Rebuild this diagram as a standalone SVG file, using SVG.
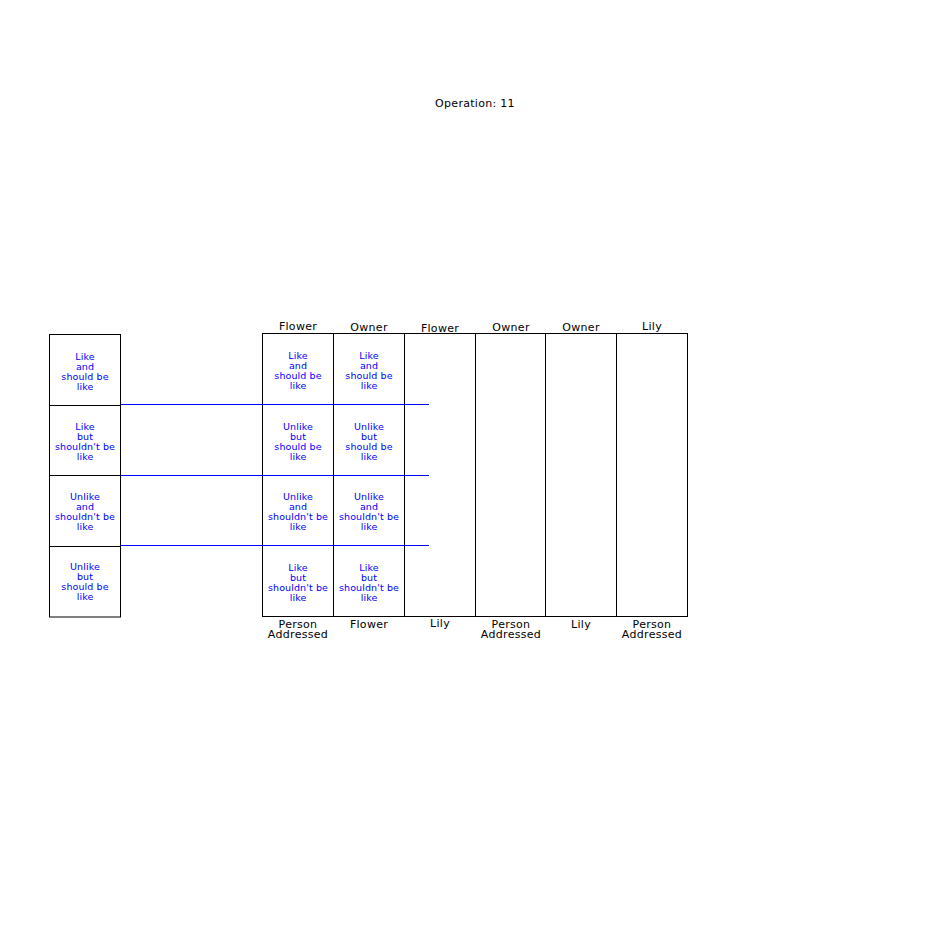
<svg xmlns="http://www.w3.org/2000/svg" width="950" height="950" viewBox="0 0 950 950">
<style>
.box{fill:none;stroke:#000;stroke-width:1}
.lbl{font-family:"DejaVu Sans",sans-serif;font-size:11px;letter-spacing:0.3px;fill:#000;text-anchor:middle}
.cell{font-family:"DejaVu Sans",sans-serif;font-size:9.5px;letter-spacing:0.1px;fill:#0000ff;text-anchor:middle}
.conn{stroke:#0000ff;stroke-width:1;fill:none}
</style>
<rect x="0" y="0" width="950" height="950" fill="#fff"/>
<text id="title" class="lbl" x="475" y="107">Operation: 11</text>

<g id="left-col">
  <g id="L1"><rect class="box" x="49.5" y="334.5" width="71" height="71"/>
    <text class="cell" x="85" y="360.2">Like</text><text class="cell" x="85" y="370.2">and</text><text class="cell" x="85" y="380.2">should be</text><text class="cell" x="85" y="390.2">like</text></g>
  <g id="L2"><rect class="box" x="49.5" y="405.5" width="71" height="70"/>
    <text class="cell" x="85" y="430.2">Like</text><text class="cell" x="85" y="440.2">but</text><text class="cell" x="85" y="450.2">shouldn't be</text><text class="cell" x="85" y="460.2">like</text></g>
  <g id="L3"><rect class="box" x="49.5" y="475.5" width="71" height="71"/>
    <text class="cell" x="85" y="499.8">Unlike</text><text class="cell" x="85" y="509.8">and</text><text class="cell" x="85" y="519.8">shouldn't be</text><text class="cell" x="85" y="529.8">like</text></g>
  <g id="L4"><rect class="box" x="49.5" y="546.5" width="71" height="70.5"/>
    <text class="cell" x="85" y="569.8">Unlike</text><text class="cell" x="85" y="579.8">but</text><text class="cell" x="85" y="589.8">should be</text><text class="cell" x="85" y="599.8">like</text></g>
</g>

<g id="col-A">
  <rect class="box" x="262.5" y="333.5" width="71" height="283"/>
  <text class="lbl" x="298" y="330.3">Flower</text>
  <text class="lbl" x="298" y="628">Person</text><text class="lbl" x="298" y="637.5">Addressed</text>
  <text class="cell" x="298" y="358.8">Like</text><text class="cell" x="298" y="368.8">and</text><text class="cell" x="298" y="378.8">should be</text><text class="cell" x="298" y="388.8">like</text>
  <text class="cell" x="298" y="430.2">Unlike</text><text class="cell" x="298" y="440.2">but</text><text class="cell" x="298" y="450.2">should be</text><text class="cell" x="298" y="460.2">like</text>
  <text class="cell" x="298" y="499.8">Unlike</text><text class="cell" x="298" y="509.8">and</text><text class="cell" x="298" y="519.8">shouldn't be</text><text class="cell" x="298" y="529.8">like</text>
  <text class="cell" x="298" y="571.2">Like</text><text class="cell" x="298" y="581.2">but</text><text class="cell" x="298" y="591.2">shouldn't be</text><text class="cell" x="298" y="601.2">like</text>
</g>
<g id="col-B">
  <rect class="box" x="333.5" y="333.5" width="71" height="283"/>
  <text class="lbl" x="369" y="331">Owner</text>
  <text class="lbl" x="369" y="628.3">Flower</text>
  <text class="cell" x="369" y="358.8">Like</text><text class="cell" x="369" y="368.8">and</text><text class="cell" x="369" y="378.8">should be</text><text class="cell" x="369" y="388.8">like</text>
  <text class="cell" x="369" y="430.2">Unlike</text><text class="cell" x="369" y="440.2">but</text><text class="cell" x="369" y="450.2">should be</text><text class="cell" x="369" y="460.2">like</text>
  <text class="cell" x="369" y="499.8">Unlike</text><text class="cell" x="369" y="509.8">and</text><text class="cell" x="369" y="519.8">shouldn't be</text><text class="cell" x="369" y="529.8">like</text>
  <text class="cell" x="369" y="571.2">Like</text><text class="cell" x="369" y="581.2">but</text><text class="cell" x="369" y="591.2">shouldn't be</text><text class="cell" x="369" y="601.2">like</text>
</g>
<g id="col-C">
  <rect class="box" x="404.5" y="333.5" width="71" height="283"/>
  <text class="lbl" x="440" y="332">Flower</text>
  <text class="lbl" x="440" y="627.3">Lily</text>
</g>
<g id="col-D">
  <rect class="box" x="475.5" y="333.5" width="70" height="283"/>
  <text class="lbl" x="511" y="331">Owner</text>
  <text class="lbl" x="511" y="628">Person</text><text class="lbl" x="511" y="637.5">Addressed</text>
</g>
<g id="col-E">
  <rect class="box" x="545.5" y="333.5" width="71" height="283"/>
  <text class="lbl" x="581" y="331">Owner</text>
  <text class="lbl" x="581" y="627.8">Lily</text>
</g>
<g id="col-F">
  <rect class="box" x="616.5" y="333.5" width="71" height="283"/>
  <text class="lbl" x="652" y="330">Lily</text>
  <text class="lbl" x="652" y="628">Person</text><text class="lbl" x="652" y="637.5">Addressed</text>
</g>

<g id="connectors">
  <line class="conn" x1="120.5" y1="404.5" x2="429" y2="404.5"/>
  <line class="conn" x1="120.5" y1="475.5" x2="429" y2="475.5"/>
  <line class="conn" x1="120.5" y1="545.5" x2="429" y2="545.5"/>
</g>
</svg>
